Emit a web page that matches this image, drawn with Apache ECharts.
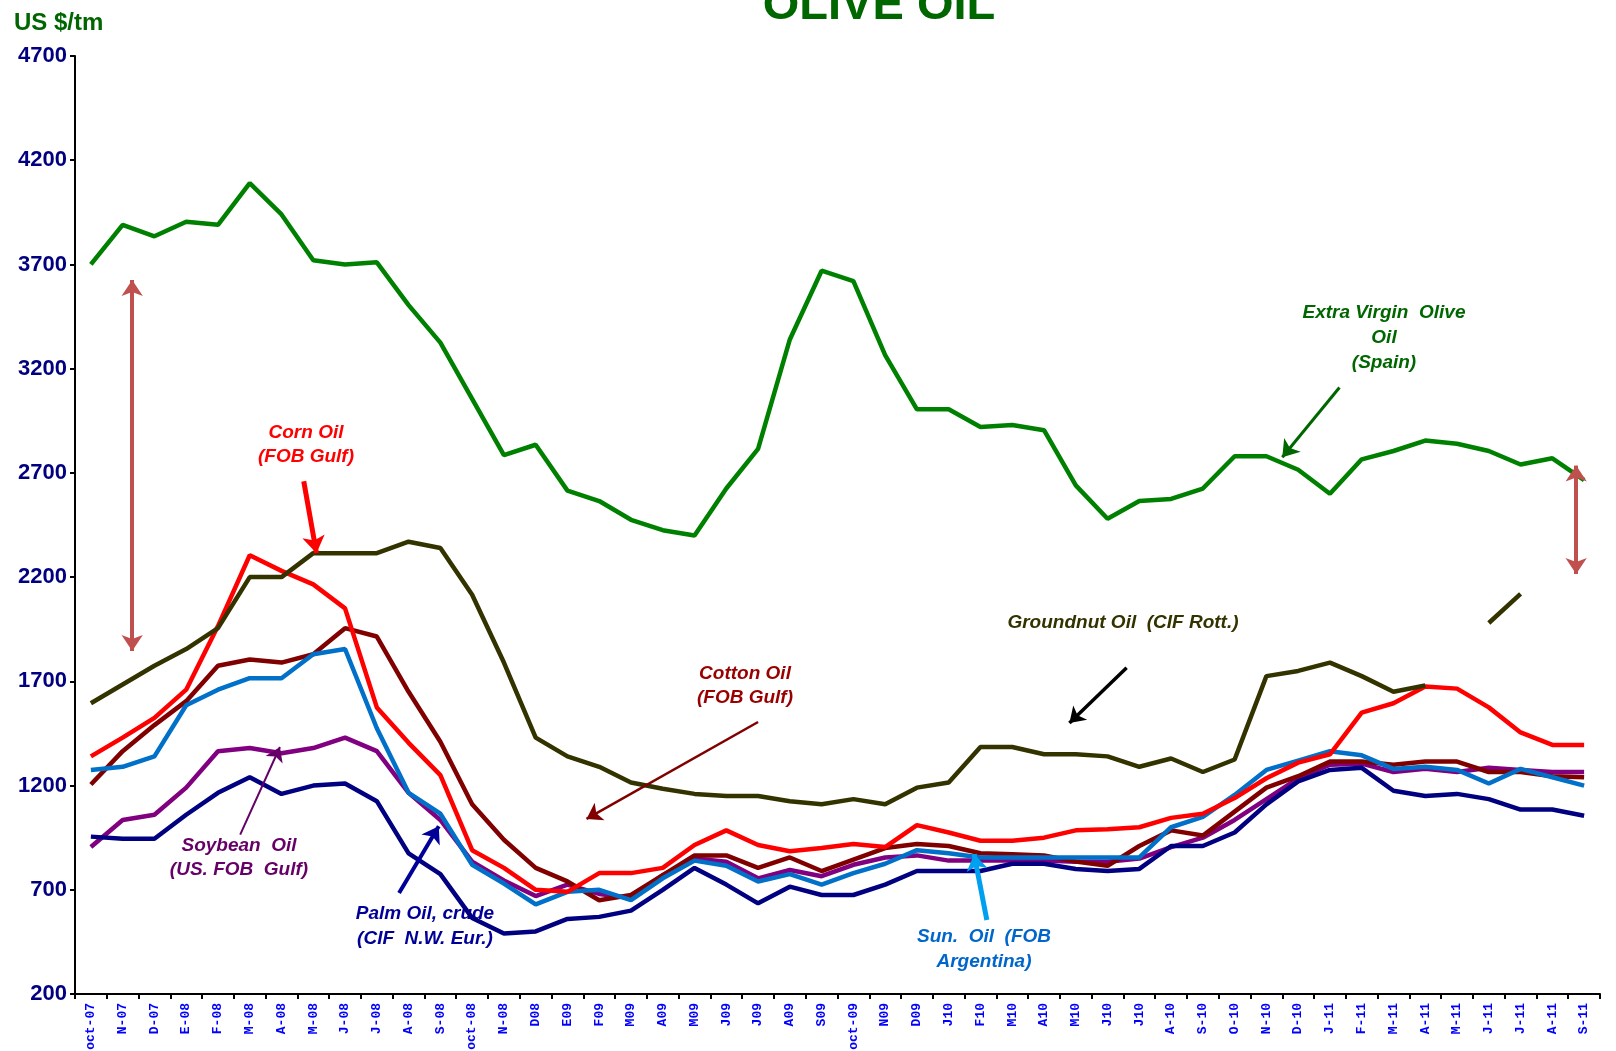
<!DOCTYPE html>
<html>
<head>
<meta charset="utf-8">
<title>Olive oil vs other vegetable oils</title>
<script src="https://cdn.jsdelivr.net/npm/echarts@6/dist/echarts.min.js"></script>
<style>
    html, body { margin: 0; padding: 0; background: #fff; }
    #chart { width: 1616px; height: 1051px; }
</style>
</head>
<body>
<div id="chart"></div>
<script>
// months, oct 2007 - sep 2011
var months = ['oct-07', 'N-07', 'D-07', 'E-08', 'F-08', 'M-08', 'A-08', 'M-08', 'J-08', 'J-08', 'A-08', 'S-08',
    'oct-08', 'N-08', 'D08', 'E09', 'F09', 'M09', 'A09', 'M09', 'J09', 'J09', 'A09', 'S09',
    'oct-09', 'N09', 'D09', 'J10', 'F10', 'M10', 'A10', 'M10', 'J10', 'J10', 'A-10', 'S-10',
    'O-10', 'N-10', 'D-10', 'J-11', 'F-11', 'M-11', 'A-11', 'M-11', 'J-11', 'J-11', 'A-11', 'S-11'];

// US $/tm
var oliveOil = [3700, 3890, 3835, 3905, 3890, 4090, 3940, 3720, 3700, 3710, 3505, 3325,
    3055, 2785, 2835, 2615, 2565, 2475, 2425, 2400, 2625, 2815, 3340, 3670,
    3620, 3265, 3005, 3005, 2920, 2930, 2905, 2640, 2480, 2565, 2575, 2625,
    2780, 2780, 2715, 2600, 2765, 2805, 2855, 2840, 2805, 2740, 2770, 2665];
var groundnutOil = [1595, 1685, 1775, 1855, 1955, 2200, 2200, 2315, 2315, 2315, 2370, 2340,
    2115, 1790, 1430, 1340, 1290, 1215, 1185, 1160, 1150, 1150, 1125, 1110,
    1135, 1110, 1190, 1215, 1385, 1385, 1350, 1350, 1340, 1290, 1330, 1265,
    1325, 1725, 1750, 1790, 1725, 1650, 1680, null, 1980, 2120, null, null];
var cornOil = [1340, 1430, 1525, 1660, 1965, 2305, 2230, 2165, 2050, 1575, 1405, 1250,
    890, 805, 700, 690, 780, 780, 805, 915, 985, 915, 885, 900,
    920, 905, 1010, 975, 935, 935, 950, 985, 990, 1000, 1045, 1065,
    1140, 1235, 1310, 1350, 1550, 1595, 1675, 1665, 1575, 1455, 1395, 1395];
var cottonOil = [1205, 1365, 1490, 1605, 1775, 1805, 1790, 1830, 1955, 1915, 1650, 1410,
    1110, 940, 805, 740, 650, 675, 770, 865, 865, 805, 855, 790,
    845, 900, 920, 910, 875, 870, 865, 835, 815, 910, 985, 960,
    1075, 1190, 1245, 1315, 1315, 1300, 1315, 1315, 1265, 1265, 1245, 1240];
var sunOil = [1275, 1290, 1340, 1585, 1660, 1715, 1715, 1830, 1855, 1475, 1165, 1065,
    820, 730, 630, 690, 700, 650, 755, 840, 815, 740, 775, 725,
    780, 825, 890, 875, 855, 855, 855, 855, 855, 855, 1000, 1050,
    1155, 1275, 1320, 1365, 1345, 1280, 1290, 1275, 1210, 1280, 1240, 1200];
var soybeanOil = [905, 1035, 1060, 1190, 1365, 1380, 1355, 1380, 1430, 1365, 1165, 1035,
    835, 745, 670, 725, 680, 660, 770, 850, 835, 755, 795, 765,
    820, 855, 865, 840, 840, 840, 840, 835, 835, 850, 905, 950,
    1035, 1135, 1235, 1300, 1305, 1265, 1280, 1265, 1285, 1275, 1265, 1265];
var palmOil = [955, 945, 945, 1060, 1165, 1240, 1160, 1200, 1210, 1125, 875, 775,
    565, 490, 500, 560, 570, 600, 700, 805, 725, 635, 715, 675,
    675, 725, 790, 790, 790, 825, 825, 800, 790, 800, 910, 910,
    975, 1110, 1220, 1275, 1285, 1175, 1150, 1160, 1135, 1085, 1085, 1055];

var seriesList = [
    { name: 'Soybean Oil', data: soybeanOil, color: '#800080' },
    { name: 'Cotton Oil', data: cottonOil, color: '#800000' },
    { name: 'Palm Oil', data: palmOil, color: '#000080' },
    { name: 'Sun. Oil', data: sunOil, color: '#0070c8' },
    { name: 'Corn Oil', data: cornOil, color: '#ff0000' },
    { name: 'Groundnut Oil', data: groundnutOil, color: '#333300' },
    { name: 'Extra Virgin Olive Oil', data: oliveOil, color: '#008000' }
];

// pointer arrows, in [month index, value] of the chart
var arrows = [
    { from: [39.3, 3110], to: [37.5, 2775], color: '#006600', width: 3, head: 16 },
    { from: [6.7, 2660], to: [7.1, 2315], color: '#ff0000', width: 5, head: 17 },
    { from: [21.0, 1505], to: [15.6, 1040], color: '#800000', width: 2.5, head: 15 },
    { from: [32.6, 1765], to: [30.8, 1500], color: '#000000', width: 3.5, head: 15 },
    { from: [4.7, 965], to: [5.95, 1385], color: '#660066', width: 2, head: 14 },
    { from: [9.7, 685], to: [10.95, 1005], color: '#000099', width: 4, head: 16 },
    { from: [28.2, 555], to: [27.8, 870], color: '#00a0f0', width: 5, head: 16 },
    { from: [1.3, 1845], to: [1.3, 3625], color: '#c0504d', width: 4, head: 16, both: true },
    { from: [46.75, 2215], to: [46.75, 2735], color: '#c0504d', width: 4, head: 16, both: true }
];

var labels = [
    { text: 'Extra Virgin  Olive\nOil\n(Spain)', x: 1384, y: 338, color: '#006600', lh: 25 },
    { text: 'Corn Oil\n(FOB Gulf)', x: 306, y: 445, color: '#ff0000', lh: 24 },
    { text: 'Cotton Oil\n(FOB Gulf)', x: 745, y: 686, color: '#990000', lh: 24 },
    { text: 'Groundnut Oil  (CIF Rott.)', x: 1123, y: 623, color: '#333300', lh: 24 },
    { text: 'Soybean  Oil\n(US. FOB  Gulf)', x: 239, y: 858, color: '#660066', lh: 24 },
    { text: 'Palm Oil, crude\n(CIF  N.W. Eur.)', x: 425, y: 926, color: '#000099', lh: 25 },
    { text: 'Sun.  Oil  (FOB\nArgentina)', x: 984, y: 949, color: '#0066cc', lh: 25 }
];

var chart = echarts.init(document.getElementById('chart'));

var series = seriesList.map(function (s) {
    return {
        name: s.name,
        type: 'line',
        data: s.data,
        symbol: 'none',
        connectNulls: false,
        silent: true,
        lineStyle: { color: s.color, width: 4.5 },
        itemStyle: { color: s.color }
    };
});

series.push({
    type: 'lines',
    coordinateSystem: 'cartesian2d',
    xAxisIndex: 1,
    yAxisIndex: 0,
    silent: true,
    z: 5,
    data: arrows.map(function (a) {
        return {
            coords: [a.from, a.to],
            symbol: a.both ? ['arrow', 'arrow'] : ['none', 'arrow'],
            symbolSize: a.head,
            lineStyle: { color: a.color, width: a.width, opacity: 1, type: 'solid' }
        };
    })
});

var graphics = labels.map(function (l) {
    return {
        type: 'text',
        x: l.x,
        y: l.y,
        silent: true,
        style: {
            text: l.text,
            fill: l.color,
            font: 'italic bold 19px "Liberation Sans", Arial, sans-serif',
            align: 'center',
            verticalAlign: 'middle',
            lineHeight: l.lh
        }
    };
});
graphics.push({
    type: 'text', x: 879, y: 6, silent: true,
    style: { text: 'OLIVE OIL', fill: '#006600', font: 'bold 47px "Liberation Sans", Arial, sans-serif', align: 'center', verticalAlign: 'middle' }
});
graphics.push({
    type: 'text', x: 14, y: 23, silent: true,
    style: { text: 'US $/tm', fill: '#006600', font: 'bold 24px "Liberation Sans", Arial, sans-serif', align: 'left', verticalAlign: 'middle' }
});

chart.setOption({
    animation: false,
    backgroundColor: '#ffffff',
    grid: { left: 75, right: 16, top: 56, bottom: 57, containLabel: false, outerBoundsMode: 'none' },
    xAxis: [
        {
            type: 'category',
            data: months,
            boundaryGap: true,
            axisLine: { onZero: false, lineStyle: { color: '#000', width: 2 } },
            axisTick: { show: true, interval: 0, length: 5, lineStyle: { color: '#000', width: 2 } },
            axisLabel: {
                interval: 0,
                rotate: 90,
                margin: 9,
                color: '#0000ff',
                fontFamily: '"Liberation Mono", monospace',
                fontWeight: 'bold',
                fontSize: 13
            },
            splitLine: { show: false }
        },
        { type: 'value', min: -0.5, max: 47.5, show: false }
    ],
    yAxis: {
        type: 'value',
        min: 200,
        max: 4700,
        interval: 500,
        axisLine: { show: true, onZero: false, lineStyle: { color: '#000', width: 2 } },
        axisTick: { show: true, length: 5, lineStyle: { color: '#000', width: 2 } },
        axisLabel: {
            color: '#000080',
            fontWeight: 'bold',
            fontSize: 22,
            fontFamily: '"Liberation Sans", Arial, sans-serif',
            margin: 8,
            formatter: function (v) { return String(v); }
        },
        splitLine: { show: false }
    },
    graphic: graphics,
    series: series
});
</script>
</body>
</html>
